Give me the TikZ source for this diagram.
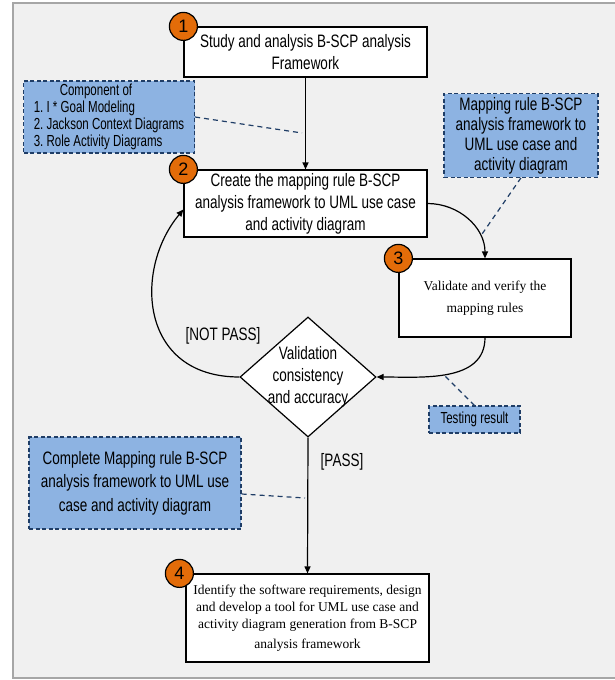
\documentclass[tikz,border=0pt]{standalone}
\usepackage{fontspec}
\setmainfont{Liberation Serif}
\newfontfamily\condsans[FakeStretch=0.75]{Liberation Sans}
\newfontfamily\narrowsans[FakeStretch=0.72]{Liberation Sans}
\newfontfamily\numsans{Liberation Sans}
\usetikzlibrary{shapes.geometric,arrows.meta}
\definecolor{notefill}{HTML}{8DB3E2}
\definecolor{notedraw}{HTML}{1F3D66}
\definecolor{numfill}{HTML}{E36C09}
\definecolor{panel}{HTML}{F0F0F0}
\definecolor{frame}{HTML}{A6A6A6}
\begin{document}
\begin{tikzpicture}[x=1pt,y=1pt,
    stepbox/.style={draw,fill=white,line width=1.2pt,align=center,inner sep=2pt},
    sansbox/.style={stepbox,font=\condsans\fontsize{18}{22}\selectfont},
    serifbox/.style={stepbox,font=\fontsize{13.5}{17}\selectfont},
    notebox/.style={draw=notedraw,fill=notefill,line width=1.2pt,dash pattern=on 4pt off 2.5pt,align=center,font=\condsans\fontsize{18}{20}\selectfont},
    stepnum/.style={circle,draw,fill=numfill,line width=1.2pt,minimum size=28pt,inner sep=0pt,font=\numsans\fontsize{18}{18}\selectfont},
    flow/.style={line width=1.2pt,-{Triangle[length=7pt,width=6pt]}},
    noteline/.style={notedraw,line width=1.2pt,dash pattern=on 5pt off 4pt},
    guard/.style={font=\condsans\fontsize{18}{22}\selectfont}]
      \useasboundingbox (0,0) rectangle (614,-680);
      \draw[frame,fill=panel,line width=1.5pt] (13,-3) rectangle (625,-678);

      \node[sansbox,minimum width=243pt,minimum height=50pt] (study) at (305.5,-52) {Study and analysis B-SCP analysis\\Framework};
      \node[sansbox,minimum width=243pt,minimum height=67pt] (create) at (305.5,-203.5) {Create the mapping rule B-SCP\\analysis framework to UML use case\\and activity diagram};
      \node[serifbox,minimum width=172pt,minimum height=78pt,font=\fontsize{13.5}{22}\selectfont] (verify) at (485,-298) {Validate and verify the\\mapping rules};
      \node[diamond,draw,fill=white,line width=1.2pt,minimum width=136pt,minimum height=120pt,inner sep=0pt,
            label={[guard,align=center]center:Validation\\consistency\\and accuracy}] (check) at (308,-377) {};
      \node[serifbox,minimum width=243pt,minimum height=88pt] (tool) at (307.5,-618) {Identify the software requirements, design\\and develop a tool for UML use case and\\activity diagram generation from B-SCP\\[3pt]analysis framework};

      \node[stepnum] (n1) at (study.north west) {1};
      \node[stepnum] (n2) at (create.north west) {2};
      \node[stepnum] (n3) at (verify.north west) {3};
      \node[stepnum] (n4) at ([xshift=-6pt]tool.north west) {4};

      \node[notebox,minimum width=171pt,minimum height=70pt,inner ysep=3pt,align=left,font=\narrowsans\fontsize{16}{17}\selectfont\frenchspacing] (components) at (109,-117) {\hspace*{26pt}Component of\\1. I * Goal Modeling\\2. Jackson Context Diagrams\\3. Role Activity Diagrams};
      \node[notebox,minimum width=154pt,minimum height=79pt] (rulenote) at (521,-135.5) {Mapping rule B-SCP\\analysis framework to\\UML use case and\\activity diagram};
      \node[notebox,minimum width=91pt,minimum height=27pt,inner sep=1pt,font=\narrowsans\fontsize{16}{17}\selectfont] (testing) at (474.5,-419.5) {Testing result};
      \node[notebox,minimum width=212pt,minimum height=92pt,font=\condsans\fontsize{18}{23.5}\selectfont] (complete) at (135,-483) {Complete Mapping rule B-SCP\\analysis framework to UML use\\case and activity diagram};

      \node[guard] (notpass) at (223,-336) {[NOT PASS]};
      \node[guard] (pass) at (342,-462) {[PASS]};

      \draw[flow] (study.south) -- (create.north);
      \draw[flow] (create.east) to[out=0,in=90] (verify.north);
      \draw[flow] (verify.south) to[out=-90,in=0] (check.east);
      \draw[flow] (check.west) .. controls +(-100,0) and +(-50,-60) .. ([yshift=-6pt]create.west);
      \draw[flow] (check.south) -- (tool.north);

      \coordinate (onflow1) at (302,-133);
      \coordinate (onflow2) at (480,-237);
      \coordinate (onflow3) at (445,-376);
      \coordinate (onflow4) at (305,-498);
      \draw[noteline] (components.east) -- (onflow1);
      \draw[noteline] (rulenote.south) -- (onflow2);
      \draw[noteline] (testing.north) -- (onflow3);
      \draw[noteline] ([yshift=-11pt]complete.east) -- (onflow4);
\end{tikzpicture}
\end{document}
